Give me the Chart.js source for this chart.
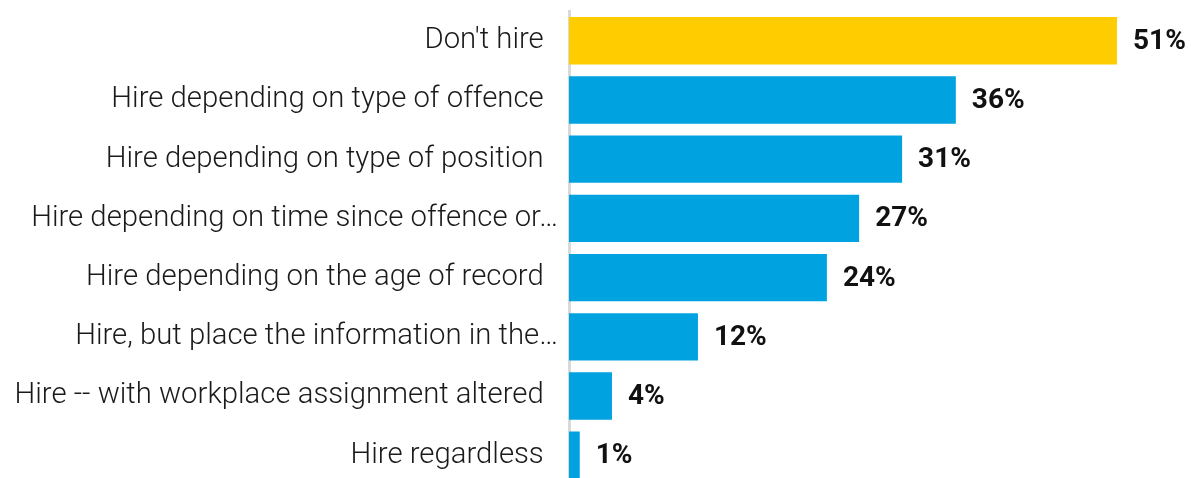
<!DOCTYPE html>
<html>
<head>
<meta charset="utf-8">
<script src="https://cdn.jsdelivr.net/npm/chart.js@4.4.1/dist/chart.umd.min.js"></script>
<style>
  html, body { margin: 0; padding: 0; background: #fff; overflow: hidden; }
</style>
</head>
<body>
<canvas id="hireChart" width="1191" height="496"></canvas>
<script>
// Answers to "would you hire someone with a record?"
const categories = [
    "Don't hire  ",
    "Hire depending on type of offence  ",
    "Hire depending on type of position  ",
    "Hire depending on time since offence or…",
    "Hire depending on the age of record  ",
    "Hire, but place the information in the…",
    "Hire -- with workplace assignment altered  ",
    "Hire regardless  "
];
const shares = [51, 36, 31, 27, 24, 12, 4, 1];
const barColors = ["#FFCC00", "#00A3E0", "#00A3E0", "#00A3E0", "#00A3E0", "#00A3E0", "#00A3E0", "#00A3E0"];

// Bold percentage written just past the end of each bar
const valueLabels = {
    id: 'valueLabels',
    afterDatasetsDraw(chart) {
        const ctx = chart.ctx;
        const meta = chart.getDatasetMeta(0);
        ctx.save();
        ctx.font = "bold 28px Roboto";
        ctx.fillStyle = "#111";
        ctx.textAlign = "left";
        ctx.textBaseline = "middle";
        meta.data.forEach((bar, i) => {
            ctx.fillText(shares[i] + "%", bar.x + 16, bar.y + 1);
        });
        ctx.restore();
    }
};

const ctx = document.getElementById('hireChart').getContext('2d');
const chart = new Chart(ctx, {
    type: 'bar',
    data: {
        labels: categories,
        datasets: [{
            data: shares,
            backgroundColor: barColors,
            borderWidth: 0,
            categoryPercentage: 0.8,
            barPercentage: 1.0
        }]
    },
    options: {
        indexAxis: 'y',
        responsive: false,
        animation: false,
        layout: { padding: { top: 11, bottom: 1, left: 0, right: 31 } },
        plugins: {
            legend: { display: false },
            tooltip: { enabled: false }
        },
        scales: {
            x: {
                display: false,
                min: 0,
                max: 55
            },
            y: {
                grid: { display: false, drawTicks: false },
                border: { display: true, color: '#d9d9d9', width: 3 },
                ticks: {
                    padding: 11,
                    color: '#1a1a1a',
                    // tiny line height keeps the labels from adding extra top/bottom space
                    font: { family: 'Roboto', size: 29.3, weight: 300, lineHeight: 0.01 }
                },
                afterFit(scale) { scale.width = 569; }
            }
        }
    },
    plugins: [valueLabels]
});
</script>
</body>
</html>
